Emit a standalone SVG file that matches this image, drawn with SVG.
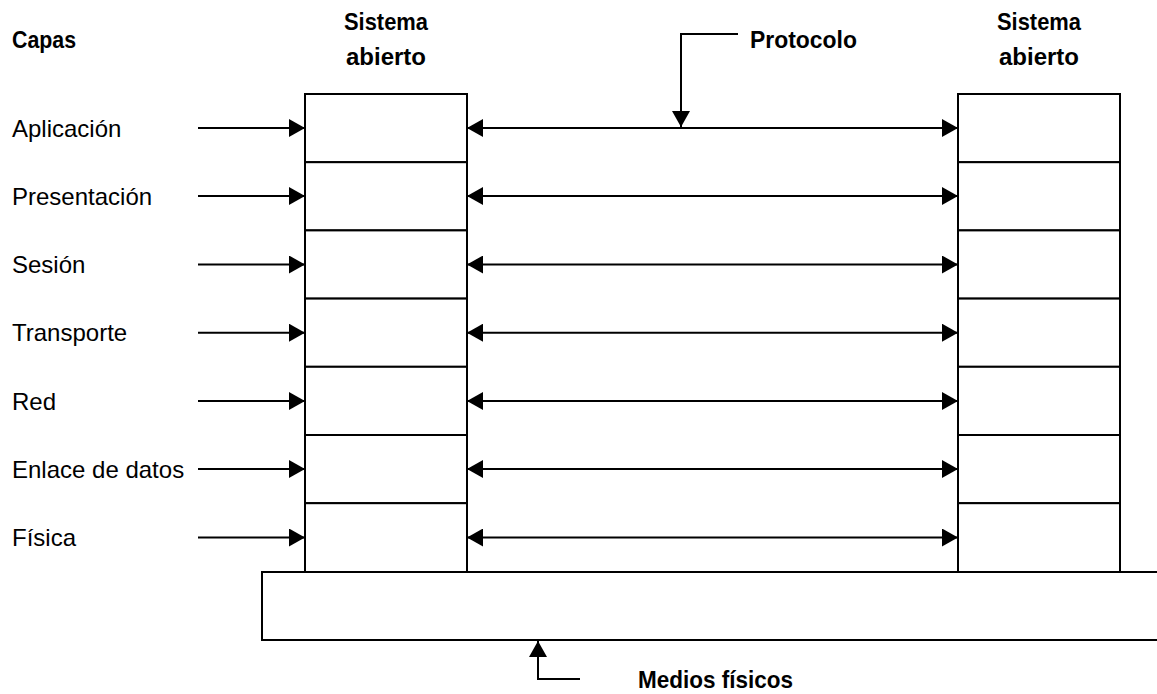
<svg xmlns="http://www.w3.org/2000/svg" width="1157" height="694" viewBox="0 0 1157 694">
  <style>
    .box { fill: #ffffff; stroke: #000000; stroke-width: 2; }
    .ln { fill: none; stroke: #000000; stroke-width: 2; }
    .lbl { font-family: "Liberation Sans", Arial, sans-serif; font-size: 24px; fill: #000000; }
    .hdr { font-family: "Liberation Sans", Arial, sans-serif; font-size: 24px; font-weight: bold; fill: #000000; }
  </style>
  <defs>
    <marker id="ah" viewBox="0 0 16 18" refX="16" refY="9" markerWidth="16" markerHeight="18" markerUnits="userSpaceOnUse" orient="auto-start-reverse">
      <path d="M0,0 L16,9 L0,18 Z" fill="#000000"/>
    </marker>
  </defs>
  <rect width="1157" height="694" fill="#ffffff"/>

  <g id="medios">
    <rect class="box" x="262" y="572" width="910" height="68"/>
  </g>

  <g id="sistema-izq">
    <rect class="box" x="305" y="94" width="162" height="68.2"/>
    <rect class="box" x="305" y="162.2" width="162" height="68.2"/>
    <rect class="box" x="305" y="230.4" width="162" height="68.2"/>
    <rect class="box" x="305" y="298.6" width="162" height="68.2"/>
    <rect class="box" x="305" y="366.8" width="162" height="68.2"/>
    <rect class="box" x="305" y="435" width="162" height="68.2"/>
    <rect class="box" x="305" y="503.2" width="162" height="68.8"/>
    <text class="hdr" x="344" y="30" textLength="84" lengthAdjust="spacingAndGlyphs">Sistema</text>
    <text class="hdr" x="346" y="65" textLength="80" lengthAdjust="spacingAndGlyphs">abierto</text>
  </g>

  <g id="sistema-der">
    <rect class="box" x="958" y="94" width="162" height="68.2"/>
    <rect class="box" x="958" y="162.2" width="162" height="68.2"/>
    <rect class="box" x="958" y="230.4" width="162" height="68.2"/>
    <rect class="box" x="958" y="298.6" width="162" height="68.2"/>
    <rect class="box" x="958" y="366.8" width="162" height="68.2"/>
    <rect class="box" x="958" y="435" width="162" height="68.2"/>
    <rect class="box" x="958" y="503.2" width="162" height="68.8"/>
    <text class="hdr" x="997" y="30" textLength="84" lengthAdjust="spacingAndGlyphs">Sistema</text>
    <text class="hdr" x="999" y="65" textLength="80" lengthAdjust="spacingAndGlyphs">abierto</text>
  </g>

  <g id="capas">
    <text class="hdr" x="12" y="48" textLength="64" lengthAdjust="spacingAndGlyphs">Capas</text>
    <text class="lbl" x="12" y="137">Aplicación</text>
    <text class="lbl" x="12" y="205">Presentación</text>
    <text class="lbl" x="12" y="273">Sesión</text>
    <text class="lbl" x="12" y="341">Transporte</text>
    <text class="lbl" x="12" y="410">Red</text>
    <text class="lbl" x="12" y="478">Enlace de datos</text>
    <text class="lbl" x="12" y="546">Física</text>
  </g>

  <g id="protocolo-label">
    <text class="hdr" x="750" y="48" textLength="107" lengthAdjust="spacingAndGlyphs">Protocolo</text>
  </g>
  <g id="medios-label">
    <text class="hdr" x="638" y="688" textLength="155" lengthAdjust="spacingAndGlyphs">Medios físicos</text>
  </g>

  <g id="connectors">
    <line class="ln" x1="198" y1="128" x2="305" y2="128" marker-end="url(#ah)"/>
    <line class="ln" x1="198" y1="196" x2="305" y2="196" marker-end="url(#ah)"/>
    <line class="ln" x1="198" y1="264.5" x2="305" y2="264.5" marker-end="url(#ah)"/>
    <line class="ln" x1="198" y1="332.7" x2="305" y2="332.7" marker-end="url(#ah)"/>
    <line class="ln" x1="198" y1="401" x2="305" y2="401" marker-end="url(#ah)"/>
    <line class="ln" x1="198" y1="469" x2="305" y2="469" marker-end="url(#ah)"/>
    <line class="ln" x1="198" y1="537.5" x2="305" y2="537.5" marker-end="url(#ah)"/>

    <line class="ln" x1="467" y1="128" x2="958" y2="128" marker-start="url(#ah)" marker-end="url(#ah)"/>
    <line class="ln" x1="467" y1="196" x2="958" y2="196" marker-start="url(#ah)" marker-end="url(#ah)"/>
    <line class="ln" x1="467" y1="264.5" x2="958" y2="264.5" marker-start="url(#ah)" marker-end="url(#ah)"/>
    <line class="ln" x1="467" y1="332.7" x2="958" y2="332.7" marker-start="url(#ah)" marker-end="url(#ah)"/>
    <line class="ln" x1="467" y1="401" x2="958" y2="401" marker-start="url(#ah)" marker-end="url(#ah)"/>
    <line class="ln" x1="467" y1="469" x2="958" y2="469" marker-start="url(#ah)" marker-end="url(#ah)"/>
    <line class="ln" x1="467" y1="537.5" x2="958" y2="537.5" marker-start="url(#ah)" marker-end="url(#ah)"/>

    <path class="ln" d="M738,34 H681 V127" marker-end="url(#ah)"/>
    <path class="ln" d="M580,679 H538 V641" marker-end="url(#ah)"/>
  </g>
</svg>
